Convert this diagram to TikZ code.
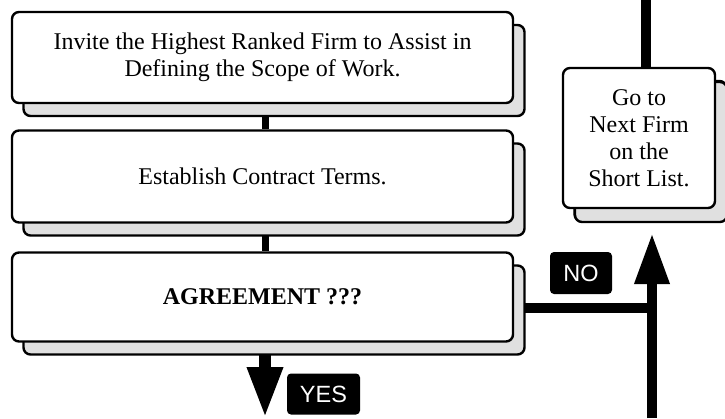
\documentclass[tikz,border=0pt]{standalone}
\usepackage{fontspec}
\setmainfont{Liberation Serif}
\setsansfont{Liberation Sans}
\usetikzlibrary{arrows.meta,shadows,backgrounds}
\begin{document}
\begin{tikzpicture}[x=1pt,y=-1pt,
  stepbox/.style={draw=black, line width=2.4pt, fill=white, rounded corners=7pt,
    align=center, font=\fontsize{24}{27}\selectfont, inner sep=0pt,
    general shadow={shadow xshift=11.5pt, shadow yshift=-13pt, fill=gray!24, draw=black, line width=2.4pt}},
  conn/.style={line width=7pt, draw=black},
  thickconn/.style={line width=10pt, draw=black},
  bigarrow/.style={draw=black, -{Triangle[width=33pt,length=51pt]}},
  tag/.style={fill=black, text=white, rounded corners=4pt, inner sep=0pt,
    font=\sffamily\fontsize{23.5}{26}\selectfont}
]
\useasboundingbox (0,0) rectangle (725,418);

\node[stepbox, minimum width=501pt, minimum height=91pt] (b1) at (262.5,57.5)
  {Invite the Highest Ranked Firm to Assist in\\Defining the Scope of Work.};
\node[stepbox, minimum width=501pt, minimum height=92pt] (b2) at (262.5,176.5)
  {Establish Contract Terms.};
\node[stepbox, minimum width=501pt, minimum height=89pt] (b3) at (262.5,297)
  {\bfseries AGREEMENT ???};
\node[stepbox, minimum width=152pt, minimum height=140pt,
  general shadow={shadow xshift=12pt, shadow yshift=-14pt, fill=gray!24, draw=black, line width=2.4pt}]
  (next) at (639,138) {Go to\\Next Firm\\on the\\Short List.};

\node[tag, minimum width=62pt, minimum height=42pt] (no) at (581,273) {NO};
\node[tag, minimum width=73pt, minimum height=41pt] (yes) at (323.5,394) {YES};

\coordinate (topin) at (646,0);
\coordinate (upbot) at (652,418);
\coordinate (yestip) at (265,418);
\coordinate (nojoin) at (652,308);

\begin{pgfonlayer}{background}
  \draw[conn] ([xshift=3pt]b1.south) -- ([xshift=3pt]b2.north);
  \draw[conn] ([xshift=3pt]b2.south) -- ([xshift=3pt]b3.north);
  \draw[thickconn] (topin) -- (topin |- next.center);
  \draw[thickconn] ([yshift=-11pt]b3.east) -- (nojoin);
  \draw[bigarrow, line width=12pt] ([xshift=2.5pt]b3.south) -- (yestip);
\end{pgfonlayer}
\draw[bigarrow, line width=10pt] (upbot) -- ([yshift=-24pt]next.south -| upbot);
\end{tikzpicture}
\end{document}
